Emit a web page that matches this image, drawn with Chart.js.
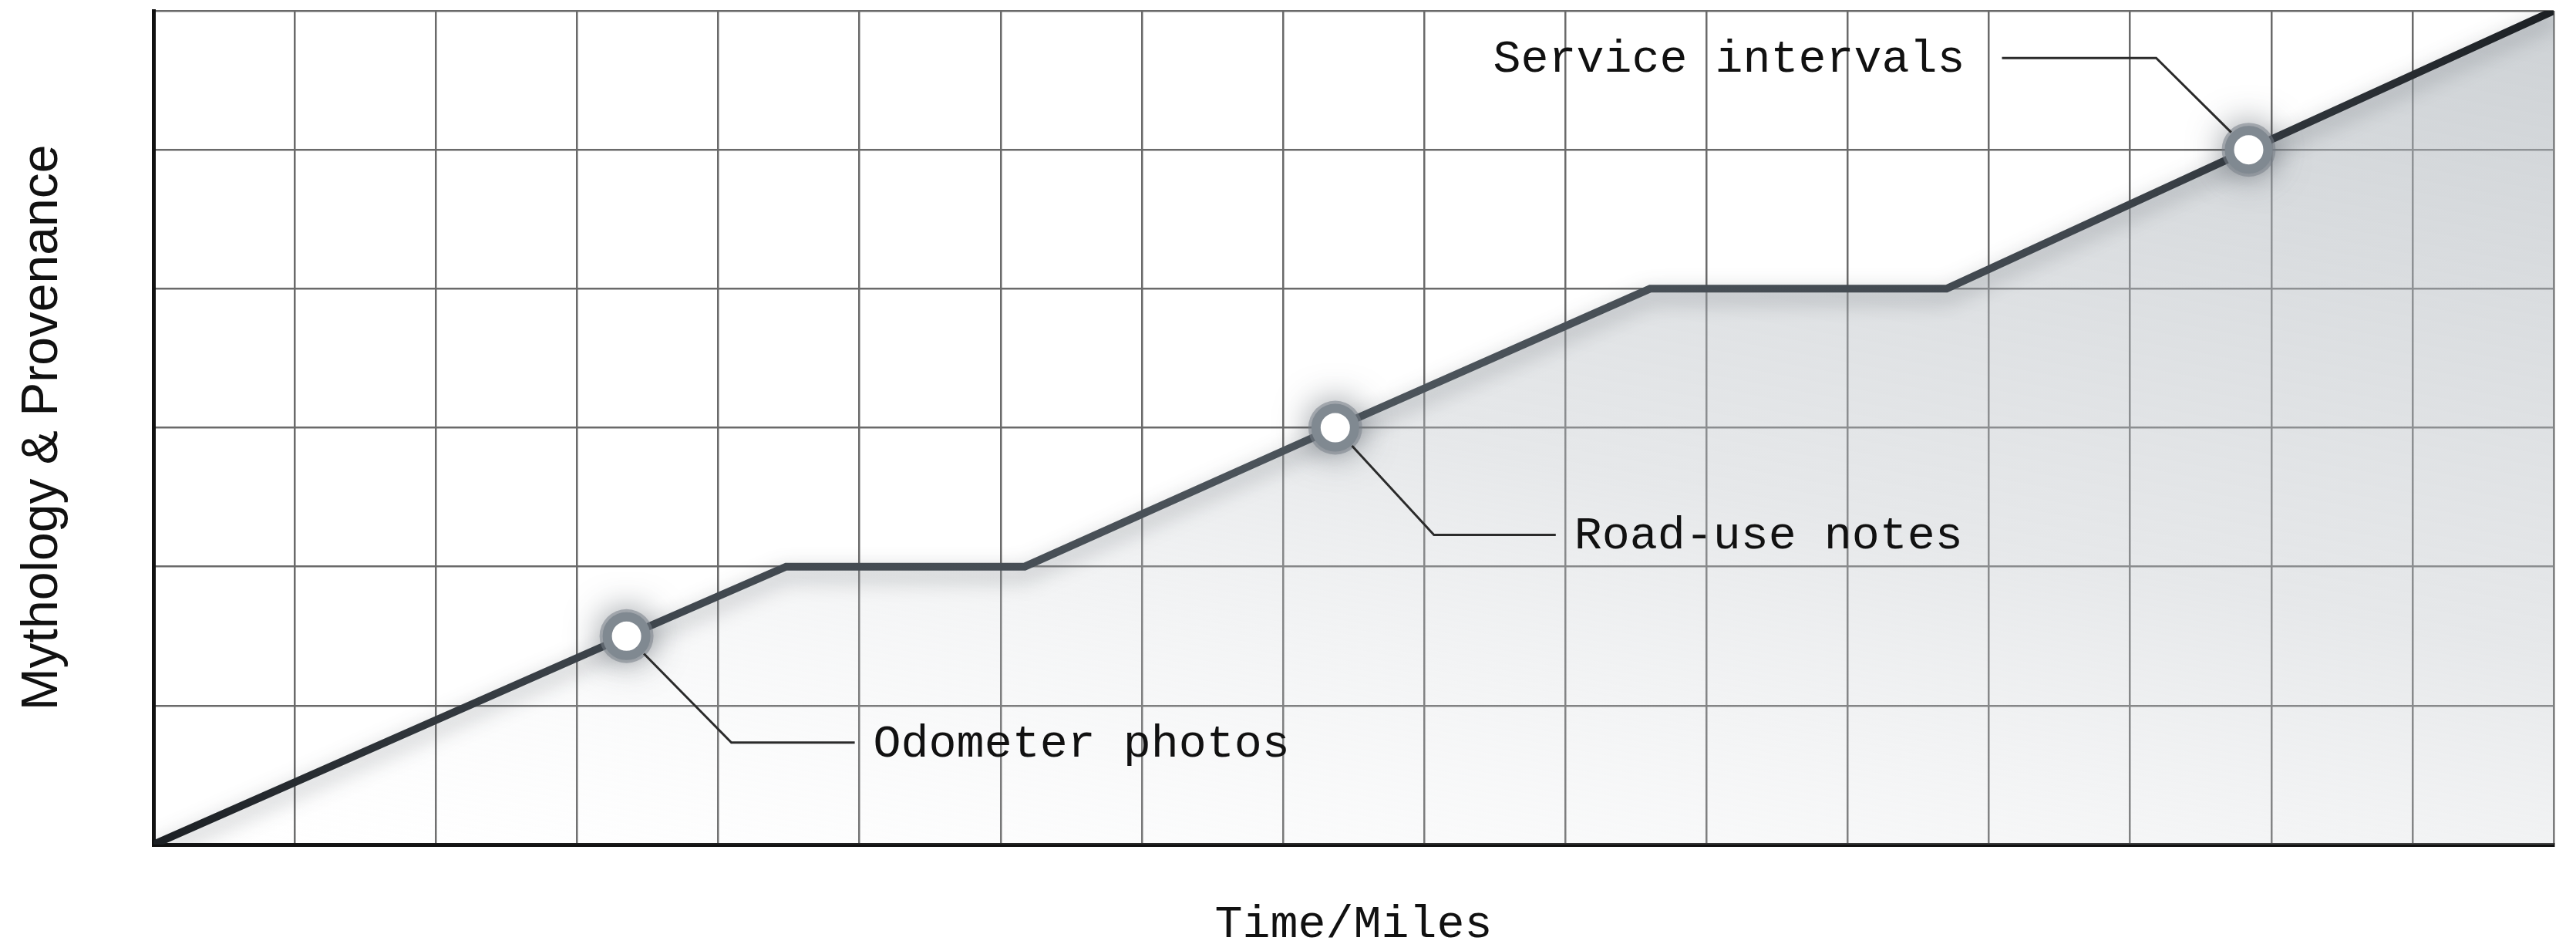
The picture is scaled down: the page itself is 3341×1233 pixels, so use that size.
<!DOCTYPE html>
<html>
<head>
<meta charset="utf-8">
<script src="https://cdn.jsdelivr.net/npm/chart.js@4.4.1/dist/chart.umd.min.js"></script>
<style>
  html, body { margin: 0; padding: 0; background: #ffffff; }
  #wrap { width: 3341px; height: 1233px; }
</style>
</head>
<body>
<div id="wrap"><canvas id="chartProvenance" width="3341" height="1233"></canvas></div>
<script>
// === Data ===
const milesX = [0, 3.35, 4.48, 6.17, 8.37, 10.6, 12.7, 14.84, 17];
const provenanceY = [0, 1.5, 2, 2, 3, 4, 4, 5, 6];
const noteLabels = ["Odometer photos", "Road-use notes", "Service intervals"];
const noteIndex = [1, 4, 7];
const xMax = 17;
const yMax = 6;

const points = milesX.map((x, i) => ({ x, y: provenanceY[i] }));
const notePoints = noteIndex.map(i => points[i]);

// leader line geometry for each note: elbow offset from marker, then horizontal run
const leaders = [
  { dx: 136, dy: 138, run: 160, gap: 24 },
  { dx: 128, dy: 139, run: 158, gap: 24 },
  { dx: -120, dy: -119, run: -200, gap: 48 }
];

const monoFont = "'Liberation Mono', 'DejaVu Sans Mono', monospace";

// === Plugins ===
// soft shadow under the line, glow behind the markers
const shadowPlugin = {
  id: "shadows",
  beforeDatasetDraw(chart, args) {
    const ctx = chart.ctx;
    ctx.save();
    if (args.index === 0) {
      ctx.shadowColor = "rgba(40, 48, 56, 0.4)";
      ctx.shadowBlur = 28;
      ctx.shadowOffsetY = 10;
    } else if (args.index === 1) {
      ctx.shadowColor = "rgba(55, 63, 72, 1)";
      ctx.shadowBlur = 44;
    }
  },
  afterDatasetDraw(chart) {
    chart.ctx.restore();
  }
};

const notesPlugin = {
  id: "notes",
  afterDatasetsDraw(chart) {
    const ctx = chart.ctx;
    const meta = chart.getDatasetMeta(0);
    ctx.save();
    ctx.strokeStyle = "#2b2b2b";
    ctx.lineWidth = 3;
    ctx.fillStyle = "#111111";
    ctx.font = "60px " + monoFont;
    ctx.textBaseline = "middle";
    noteIndex.forEach((idx, n) => {
      const p = meta.data[idx];
      const l = leaders[n];
      const len = Math.hypot(l.dx, l.dy);
      const sx = p.x + l.dx / len * 32;
      const sy = p.y + l.dy / len * 32;
      const ex = p.x + l.dx;
      const ey = p.y + l.dy;
      ctx.beginPath();
      ctx.moveTo(sx, sy);
      ctx.lineTo(ex, ey);
      ctx.lineTo(ex + l.run, ey);
      ctx.stroke();
      if (l.run > 0) {
        ctx.textAlign = "left";
        ctx.fillText(noteLabels[n], ex + l.run + l.gap, ey + 2);
      } else {
        ctx.textAlign = "right";
        ctx.fillText(noteLabels[n], ex + l.run - l.gap, ey + 2);
      }
    });
    ctx.restore();
  }
};

// === Chart ===
const ctx = document.getElementById("chartProvenance").getContext("2d");

function lineGradient(context) {
  const area = context.chart.chartArea;
  if (!area) return "#2a2f35";
  const g = context.chart.ctx.createLinearGradient(area.left, 0, area.right, 0);
  g.addColorStop(0, "#1c2024");
  g.addColorStop(0.2, "#40474e");
  g.addColorStop(0.5, "#4d555c");
  g.addColorStop(0.8, "#40474e");
  g.addColorStop(1, "#1c2024");
  return g;
}

function fillGradient(context) {
  const area = context.chart.chartArea;
  if (!area) return "rgba(200,204,208,0.4)";
  const g = context.chart.ctx.createLinearGradient(area.left, area.bottom, area.left + 300, area.bottom - 1607);
  g.addColorStop(0, "rgba(235, 237, 239, 0)");
  g.addColorStop(0.5, "rgba(190, 195, 200, 0.38)");
  g.addColorStop(1, "rgba(170, 177, 183, 0.58)");
  return g;
}

const chart = new Chart(ctx, {
  type: "line",
  data: {
    datasets: [
      {
        label: "Provenance",
        data: points,
        borderColor: lineGradient,
        backgroundColor: fillGradient,
        borderWidth: 10,
        fill: "origin",
        tension: 0,
        pointRadius: 0,
        borderJoinStyle: "miter",
        borderCapStyle: "round",
        order: 3
      },
      {
        label: "Glow",
        data: notePoints,
        showLine: false,
        pointRadius: 35,
        pointBorderWidth: 0,
        pointBackgroundColor: "rgba(120, 128, 136, 0.55)",
        clip: false,
        order: 2
      },
      {
        label: "Notes",
        data: notePoints,
        showLine: false,
        pointRadius: 25,
        pointBorderWidth: 12,
        pointBackgroundColor: "#ffffff",
        pointBorderColor: "#808991",
        clip: false,
        order: 1
      }
    ]
  },
  options: {
    responsive: false,
    animation: false,
    devicePixelRatio: 1,
    layout: { autoPadding: false, padding: { top: 14, right: 29, left: 0, bottom: 0 } },
    plugins: {
      legend: { display: false },
      tooltip: { enabled: false }
    },
    scales: {
      x: {
        type: "linear",
        min: 0,
        max: xMax,
        ticks: { display: false, stepSize: 1 },
        grid: { color: "#6a6a6a", lineWidth: 2.5, drawTicks: false },
        border: { color: "#111111", width: 5 },
        title: {
          display: true,
          text: "Time/Miles",
          color: "#111111",
          font: { family: monoFont, size: 60, lineHeight: 1 },
          padding: { top: 74, bottom: 4 }
        }
      },
      y: {
        type: "linear",
        min: 0,
        max: yMax,
        ticks: { display: false, stepSize: 1 },
        grid: { color: "#6a6a6a", lineWidth: 2.5, drawTicks: false },
        border: { color: "#111111", width: 5 },
        title: {
          display: true,
          text: "Mythology & Provenance",
          color: "#111111",
          font: { family: "'Liberation Sans', Arial, sans-serif", size: 66, lineHeight: 1.2 },
          padding: { top: 16, bottom: 104 }
        }
      }
    }
  },
  plugins: [shadowPlugin, notesPlugin]
});
</script>
</body>
</html>
